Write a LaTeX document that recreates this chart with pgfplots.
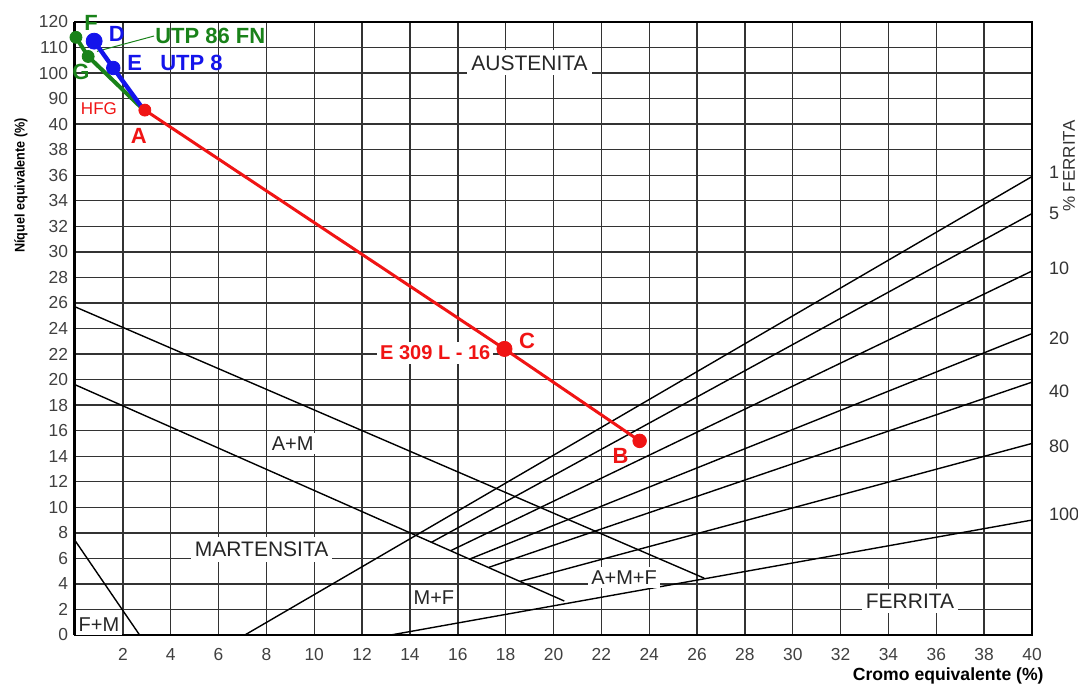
\documentclass[border=0pt]{standalone}
\usepackage{pgfplots}
\pgfplotsset{compat=1.18}
\usepackage{fontspec}
\setmainfont{Liberation Sans}
\definecolor{myred}{RGB}{240,20,20}
\definecolor{myblue}{RGB}{20,20,235}
\definecolor{mygreen}{RGB}{25,130,25}
\begin{document}
\begin{tikzpicture}
\begin{axis}[
  width=478.5pt, height=306.5pt, scale only axis,
  xmin=0, xmax=40, ymin=0, ymax=48,
  xtick={2,4,...,40}, ytick={0,2,...,48},
  yticklabels={0,2,4,6,8,10,12,14,16,18,20,22,24,26,28,30,32,34,36,38,40,90,100,110,120},
  grid=major,
  major grid style={black!80, line width=0.7pt},
  major tick length=0pt,
  axis line style={black, line width=0.7pt},
  tick label style={font=\fontsize{8.7}{10}\selectfont, text=black!75},
  xticklabel style={yshift=-3pt},
  /pgf/number format/assume math mode=true,
  clip=false,
]
\coordinate (sw) at (rel axis cs:0,0);
\coordinate (ne) at (rel axis cs:1,1);
\draw[line width=1.5pt] (axis cs:0,0) -- (axis cs:0,48);
% phase boundaries
\addplot[black, line width=0.7pt] coordinates {(0,7.4) (2.7,0)};
\addplot[black, line width=0.7pt] coordinates {(0,25.7) (26.3,4.45)};
\addplot[black, line width=0.7pt] coordinates {(0,19.6) (20.45,2.66)};
% ferrite lines
\addplot[black, line width=0.7pt] coordinates {(7.1,0) (40,35.9)};
\addplot[black, line width=0.7pt] coordinates {(14.9,7.26) (40,33.0)};
\addplot[black, line width=0.7pt] coordinates {(15.7,6.6) (40,28.5)};
\addplot[black, line width=0.7pt] coordinates {(16.5,5.95) (40,23.6)};
\addplot[black, line width=0.7pt] coordinates {(17.3,5.3) (40,19.8)};
\addplot[black, line width=0.7pt] coordinates {(18.6,4.2) (40,15.0)};
\addplot[black, line width=0.7pt] coordinates {(13.2,0) (40,9.0)};
% region labels
\tikzset{reg/.style={fill=white, inner xsep=2pt, inner ysep=2.5pt, text=black!85, font=\fontsize{10.5}{12}\selectfont}}
\tikzset{regs/.style={fill=white, inner xsep=1.5pt, inner ysep=2pt, text=black!85, font=\fontsize{10}{12}\selectfont}}
\node[reg] at (axis cs:19.0,44.8) {AUSTENITA};
\node[regs] at (axis cs:9.1,15.0) {A+M};
\node[reg] at (axis cs:7.8,6.7) {MARTENSITA};
\node[regs] at (axis cs:22.95,4.5) {A+M+F};
\node[regs] at (axis cs:15.0,2.9) {M+F};
\node[reg] at (axis cs:34.9,2.65) {FERRITA};
\node[regs] at (axis cs:1.0,0.85) {F+M};
% right ferrite labels
\tikzset{fl/.style={anchor=west, xshift=5pt, text=black!80, font=\fontsize{9}{10}\selectfont}}
\node[fl] at (axis cs:40,36.2) {1};
\node[fl] at (axis cs:40,33.0) {5};
\node[fl] at (axis cs:40,28.7) {10};
\node[fl] at (axis cs:40,23.2) {20};
\node[fl] at (axis cs:40,19.1) {40};
\node[fl] at (axis cs:40,14.8) {80};
\node[fl] at (axis cs:40,9.45) {100};
\node[rotate=90, text=black!80, font=\fontsize{8.5}{10}\selectfont] at ([xshift=18.5pt]axis cs:40,36.7) {\% FERRITA};
% axis titles
\node[rotate=90, font=\bfseries\fontsize{7}{8}\selectfont] at ([xshift=-27pt]axis cs:0,35.2) {\scalebox{0.9}[1]{Níquel equivalente (\%)}};
\node[font=\bfseries\fontsize{8.8}{10}\selectfont] at ([yshift=-20.5pt]axis cs:36.5,0) {Cromo equivalente (\%)};
% green UTP 86 FN
\addplot[mygreen, line width=0.5pt] coordinates {(0.92,45.7) (3.3,46.9)};
\addplot[mygreen, line width=2pt] coordinates {(0.04,46.8) (0.55,45.3) (2.88,41.1)};
\addplot[mygreen, only marks, mark=*, mark size=3pt] coordinates {(0.04,46.8) (0.55,45.3)};
% blue UTP 8
\addplot[myblue, line width=2.2pt] coordinates {(0.8,46.5) (1.6,44.4) (2.88,41.1)};
\addplot[myblue, only marks, mark=*, mark size=4pt] coordinates {(0.8,46.5)};
\addplot[myblue, only marks, mark=*, mark size=3.4pt] coordinates {(1.6,44.4)};
% red HFG
\node[font=\bfseries\fontsize{10}{12}\selectfont, text=myred, anchor=east, fill=white, inner xsep=1.5pt, inner ysep=2pt] at (axis cs:17.5,22.1) {E 309 L - 16};
\addplot[myred, line width=1.5pt] coordinates {(2.92,41.1) (17.95,22.4) (23.6,15.2)};
\addplot[myred, only marks, mark=*, mark size=3pt] coordinates {(2.92,41.1)};
\addplot[myred, only marks, mark=*, mark size=3.8pt] coordinates {(17.95,22.4)};
\addplot[myred, only marks, mark=*, mark size=3.4pt] coordinates {(23.6,15.2)};
% point labels
\tikzset{pl/.style={font=\bfseries\fontsize{11}{12}\selectfont, inner sep=0pt}}
\node[pl, text=mygreen] at (axis cs:0.67,47.9) {F};
\node[pl, text=myblue] at (axis cs:1.75,47.1) {D};
\node[pl, text=myblue] at (axis cs:2.5,44.8) {E};
\node[pl, text=mygreen] at (axis cs:0.25,44.1) {G};
\node[pl, text=mygreen, anchor=west] at (axis cs:3.34,46.9) {UTP 86 FN};
\node[pl, text=myblue, anchor=west] at (axis cs:3.55,44.8) {UTP 8};
\node[text=myred, font=\fontsize{8.5}{10}\selectfont, inner sep=0pt] at (axis cs:1.0,41.2) {HFG};
\node[pl, text=myred] at (axis cs:2.67,39.1) {A};
\node[pl, text=myred] at (axis cs:18.9,23.0) {C};
\node[pl, text=myred] at (axis cs:22.8,14.0) {B};
\end{axis}
\pgfresetboundingbox
\path[use as bounding box] ([xshift=-37.5pt,yshift=-24.5pt]sw) rectangle ([xshift=23pt,yshift=11pt]ne);
\end{tikzpicture}
\end{document}
